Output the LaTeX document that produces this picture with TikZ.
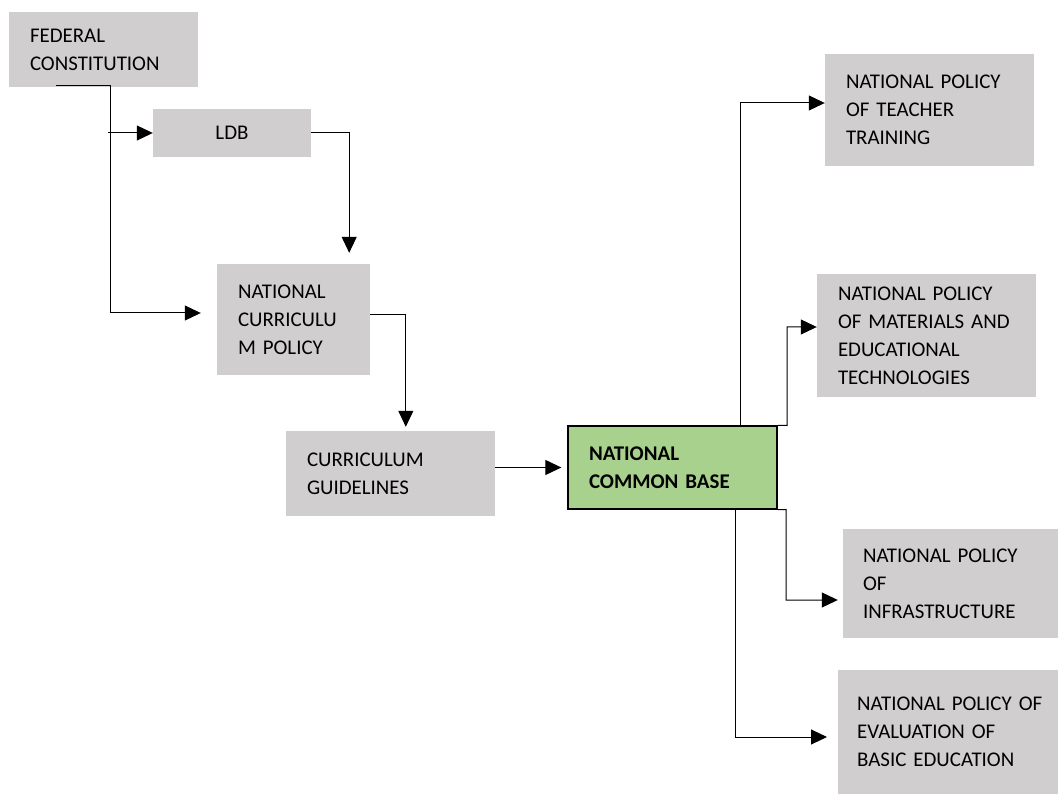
\documentclass[tikz,border=0pt]{standalone}
\usepackage{fontspec}
\setmainfont{Carlito}
\usetikzlibrary{arrows.meta}
\definecolor{boxgray}{HTML}{D0CECE}
\definecolor{boxgreen}{HTML}{A9D18E}
\begin{document}
\begin{tikzpicture}[x=1pt,y=-1pt,
  every node/.style={font=\fontsize{20.9}{28}\selectfont},
  pbox/.style={fill=boxgray, draw=none, rectangle, inner ysep=0pt, align=left},
  gbox/.style={fill=boxgreen, draw=black, line width=1.3pt, rectangle, inner ysep=0pt, align=left, font=\fontsize{20.9}{28}\selectfont\bfseries},
  conn/.style={line width=1pt, -{Triangle[length=16pt,width=15pt]}},
  plain/.style={line width=1pt}]
\useasboundingbox (0,0) rectangle (1058,794);
% boxes
\node[pbox, minimum width=189pt, minimum height=75pt, inner xsep=21pt, text width=147pt] (FC) at (103.5,49.5) {FEDERAL\\CONSTITUTION};
\node[pbox, minimum width=158pt, minimum height=48pt, align=center] (LDB) at (232,133) {LDB};
\node[pbox, minimum width=153pt, minimum height=111pt, inner xsep=21pt, text width=111pt] (NCP) at (293.5,319.5) {NATIONAL\\CURRICULU\\M POLICY};
\node[pbox, minimum width=209pt, minimum height=85pt, inner xsep=21pt, text width=167pt] (CG) at (390.5,473.5) {CURRICULUM\\GUIDELINES};
\node[gbox, minimum width=209pt, minimum height=83pt, inner xsep=21pt, text width=167pt] (NCB) at (672.5,467.5) {NATIONAL\\COMMON BASE};
\node[pbox, minimum width=209pt, minimum height=112pt, inner xsep=21pt, text width=167pt] (TT) at (929.5,110) {NATIONAL POLICY\\OF TEACHER\\TRAINING};
\node[pbox, minimum width=219pt, minimum height=123pt, inner xsep=21pt, text width=177pt] (MAT) at (926.5,335.5) {NATIONAL POLICY\\OF MATERIALS AND\\EDUCATIONAL\\TECHNOLOGIES};
\node[pbox, minimum width=215pt, minimum height=109pt, inner xsep=20pt, text width=175pt] (INF) at (950.5,583.5) {NATIONAL POLICY\\OF\\INFRASTRUCTURE};
\node[pbox, anchor=west, minimum height=124pt, inner xsep=19pt, text width=200pt] (EVAL) at (838,732) {NATIONAL POLICY OF\\EVALUATION OF\\BASIC EDUCATION};
% connectors
\coordinate (a1) at (56,86);
\coordinate (a2) at (110,86);
\coordinate (a3) at (110,313);
\coordinate (b1) at (108,133);
\coordinate (m1) at (787,425.5);
\coordinate (i1) at (786,509.5);
\draw[plain] (a1) -- (a2) -- (a3);
\draw[conn, shorten >=16pt] (a3) -- (NCP.west |- a3);
\draw[conn] (b1) -- (LDB.west);
\draw[conn, shorten >=11pt] (LDB.east) -| ([xshift=-21pt]NCP.north east);
\draw[conn, shorten >=4pt] ([yshift=4.5pt]NCP.east) -| ([xshift=120pt]CG.north west);
\draw[conn, shorten >=6pt] (CG.east |- NCB.west) -- (NCB.west);
\draw[conn] ([xshift=173pt]NCB.north west) |- ([yshift=7pt]TT.west);
\draw[conn] (NCB.north east) -- (m1) |- ([yshift=8.5pt]MAT.west);
\draw[conn, shorten >=5pt] (NCB.south east) -- (i1) |- ([yshift=-16.5pt]INF.west);
\draw[conn, shorten >=11pt] ([xshift=168pt]NCB.south west) |- ([yshift=-5pt]EVAL.west);
\end{tikzpicture}
\end{document}
